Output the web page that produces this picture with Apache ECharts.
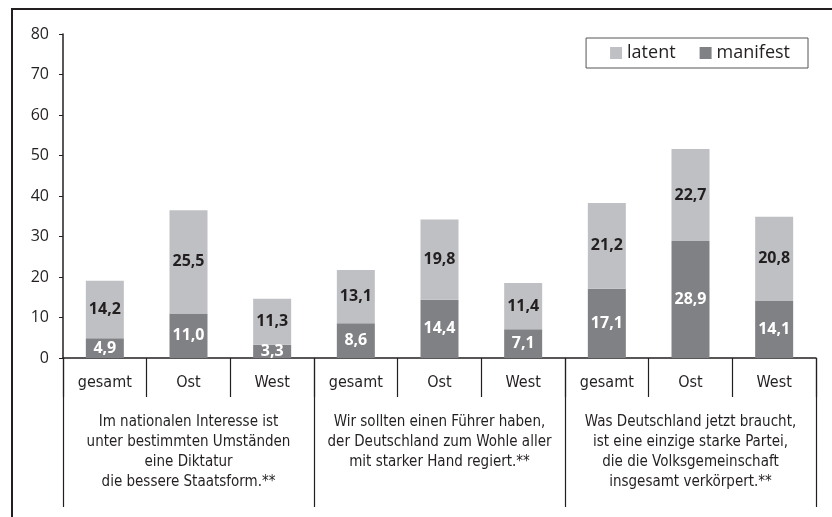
<!DOCTYPE html>
<html>
<head>
<meta charset="utf-8">
<script src="https://cdn.jsdelivr.net/npm/echarts@6/dist/echarts.min.js"></script>
<style>
  html, body { margin: 0; padding: 0; background: #fff; }
  #frame { position: absolute; left: 11px; top: 8px; width: 830px; height: 520px;
           border-left: 2px solid #231f20; border-top: 2px solid #231f20; }
  #chart { position: absolute; left: 0; top: 0; width: 832px; height: 517px; }
</style>
</head>
<body>
<div id="frame"></div>
<div id="chart"></div>
<script>
const categories = ['gesamt', 'Ost', 'West', 'gesamt', 'Ost', 'West', 'gesamt', 'Ost', 'West']
const groups = [
  'Im nationalen Interesse ist\nunter bestimmten Umständen\neine Diktatur\ndie bessere Staatsform.**',
  'Wir sollten einen Führer haben,\nder Deutschland zum Wohle aller\nmit starker Hand regiert.**',
  'Was Deutschland jetzt braucht,\nist eine einzige starke Partei,\ndie die Volksgemeinschaft\ninsgesamt verkörpert.**'
]
const manifest = [4.9, 11.0, 3.3, 8.6, 14.4, 7.1, 17.1, 28.9, 14.1]
const latent = [14.2, 25.5, 11.3, 13.1, 19.8, 11.4, 21.2, 22.7, 20.8]
const yTicks = [0, 80, 10] // min, max, interval

const ink = '#231f20'
const narrow = "'Liberation Sans Narrow', 'DejaVu Sans Condensed', 'Roboto Condensed', sans-serif"
const fmt = (p) => p.value.toFixed(1).replace('.', ',')

const chart = echarts.init(document.getElementById('chart'))
chart.setOption({
  animation: false,
  grid: { left: 63, right: 16, top: 34, bottom: 159 },
  legend: {
    data: ['latent', 'manifest'],
    top: 38,
    right: 24,
    icon: 'rect',
    itemWidth: 12,
    itemHeight: 12,
    itemGap: 24,
    padding: [6, 18, 6, 24],
    borderColor: '#555',
    borderWidth: 1,
    textStyle: { color: ink, fontSize: 18, fontFamily: "'Open Sans', sans-serif" }
  },
  xAxis: [
    {
      type: 'category',
      data: categories,
      axisLine: { lineStyle: { color: ink, width: 1.5 } },
      axisTick: { show: true, interval: 0, length: 39, lineStyle: { color: ink, width: 1.2 } },
      axisLabel: { color: ink, fontSize: 16, margin: 17, fontFamily: narrow, interval: 0 }
    },
    {
      type: 'category',
      position: 'bottom',
      data: groups,
      axisLine: { show: false },
      axisTick: { show: true, interval: 0, length: 149, lineStyle: { color: ink, width: 1.2 } },
      axisLabel: { color: ink, fontSize: 15, lineHeight: 20, margin: 54, fontFamily: narrow, interval: 0 }
    }
  ],
  yAxis: {
    type: 'value',
    min: yTicks[0],
    max: yTicks[1],
    interval: yTicks[2],
    axisLine: { show: true, lineStyle: { color: ink, width: 1.5 } },
    axisTick: { show: true, length: 4, lineStyle: { color: ink } },
    splitLine: { show: false },
    axisLabel: { color: ink, fontSize: 16, margin: 14, fontFamily: "'Open Sans', sans-serif" }
  },
  series: [
    {
      name: 'manifest',
      type: 'bar',
      stack: 'a',
      data: manifest,
      barWidth: 38,
      itemStyle: { color: '#808184' },
      label: { show: true, position: 'inside', color: '#fff', fontSize: 16, fontWeight: 'bold',
               fontFamily: "'Open Sans', sans-serif", formatter: fmt }
    },
    {
      name: 'latent',
      type: 'bar',
      stack: 'a',
      data: latent,
      barWidth: 38,
      itemStyle: { color: '#bfc0c3' },
      label: { show: true, position: 'inside', color: ink, fontSize: 16, fontWeight: 'bold',
               fontFamily: "'Open Sans', sans-serif", formatter: fmt }
    }
  ]
})
</script>
</body>
</html>
